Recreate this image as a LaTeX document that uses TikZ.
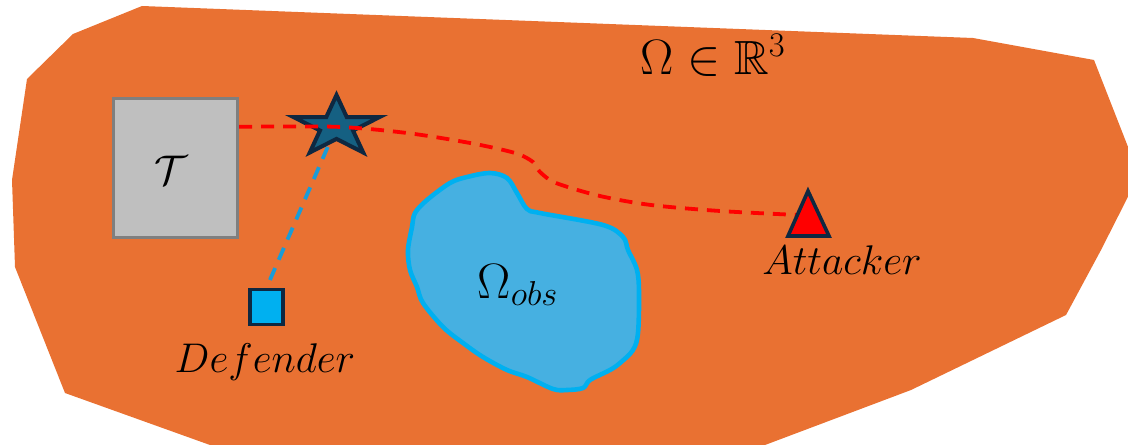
\documentclass[tikz,border=0pt]{standalone}
\usepackage{amssymb}
\usetikzlibrary{calc}
\definecolor{regionorange}{HTML}{E97132}
\definecolor{obsfill}{HTML}{46B0E1}
\definecolor{obsedge}{HTML}{00B0F0}
\definecolor{starfill}{HTML}{156082}
\definecolor{darkedge}{HTML}{0E2841}
\definecolor{boxfill}{HTML}{BFBFBF}
\definecolor{boxedge}{HTML}{7F7F7F}
\definecolor{defblue}{HTML}{00B0F0}
\definecolor{dashblue}{HTML}{1A9CD8}
\tikzset{
  x=0.5pt, y=-0.5pt,
  tbox/.style={draw=boxedge, fill=boxfill, line width=1.6pt, minimum width=62pt, minimum height=69.5pt, inner sep=0pt},
  defbox/.style={draw=darkedge, fill=defblue, line width=1.6pt, minimum width=16.5pt, minimum height=17.5pt, inner sep=0pt},
  reddash/.style={draw=red, line width=1.9pt, dash pattern=on 6.5pt off 4.5pt},
  bluedash/.style={draw=dashblue, line width=1.9pt, dash pattern=on 6.5pt off 4.5pt},
  lbl/.style={anchor=base, inner sep=0pt, font=\fontsize{21}{24}\selectfont},
  biglbl/.style={anchor=base, inner sep=0pt, font=\fontsize{24}{28}\selectfont},
  obslbl/.style={anchor=base, inner sep=0pt, font=\fontsize{23}{26}\selectfont},
}
\begin{document}
\begin{tikzpicture}
\useasboundingbox (0,0) rectangle (1128,444);
% region Omega
\begin{scope}
\clip (0,0) rectangle (1128,444);
\fill[regionorange] (142,6) -- (973,38) -- (1094,60) -- (1139,175) -- (1101,250) -- (1066,315) -- (911,390) -- (765,445) -- (210,445) -- (65,393) -- (15,267) -- (12,180) -- (27,79) -- (73,34) -- cycle;
\end{scope}
% obstacle
\draw[draw=obsedge, fill=obsfill, line width=2.3pt] plot[smooth cycle, tension=0.55] coordinates {
(490,173) (507,178) (517,193) (527,209) (540,213) (603,225) (623,237) (628,250) (637,270) (639,293) (638,333) (633,350) (620,363) (610,370) (590,380) (583,388) (567,390) (553,389) (527,377) (507,370) (483,357) (463,343) (443,327) (423,303) (417,287) (410,270) (408,250) (412,227) (415,213) (427,200) (450,183) (467,177)};
\node[obslbl] (obs) at (518,298) {$\Omega_{obs}$};
% labels
\node[biglbl] (omega) at (713,75) {$\Omega \in \mathbb{R}^3$};
% target box
\node[tbox] (T) at (175.5,168) {};
\node[anchor=base, inner sep=0pt, font=\fontsize{22}{24}\selectfont] (Tl) at (171,184) {$\mathcal{T}$};
% defender
\node[defbox] (D) at (266.5,307) {};
\node[lbl] (dl) at (265,372) {$Defender$};
% star position
\coordinate (star) at (336.5,126.8);
% blue dashed
\draw[bluedash] (star) -- (D.north);
% star
\draw[draw=darkedge, fill=starfill, line width=2pt, line join=miter] (336.5,95.0) -- (346.7,117.0) -- (379.7,117.0) -- (353.0,130.5) -- (363.2,152.5) -- (336.5,138.9) -- (309.8,152.5) -- (320.0,130.5) -- (293.3,117.0) -- (326.3,117.0) -- cycle;
% attacker
\coordinate (att) at (808,191);
\coordinate (attbl) at (788,236);
\coordinate (attbr) at (829,236);
\coordinate (attw) at (798,215);
\draw[reddash] plot[smooth, tension=0.5] coordinates {(T.east |- star) (star) (407,133) (470,143) (515,153) (533,162) (540,172) (556,183) (600,196) (651,205) (720,211) (attw)};
\draw[draw=darkedge, fill=red, line width=1.8pt, line join=miter] (att) -- (attbr) -- (attbl) -- cycle;
\node[lbl] (al) at (842,274) {$Attacker$};
\end{tikzpicture}
\end{document}
